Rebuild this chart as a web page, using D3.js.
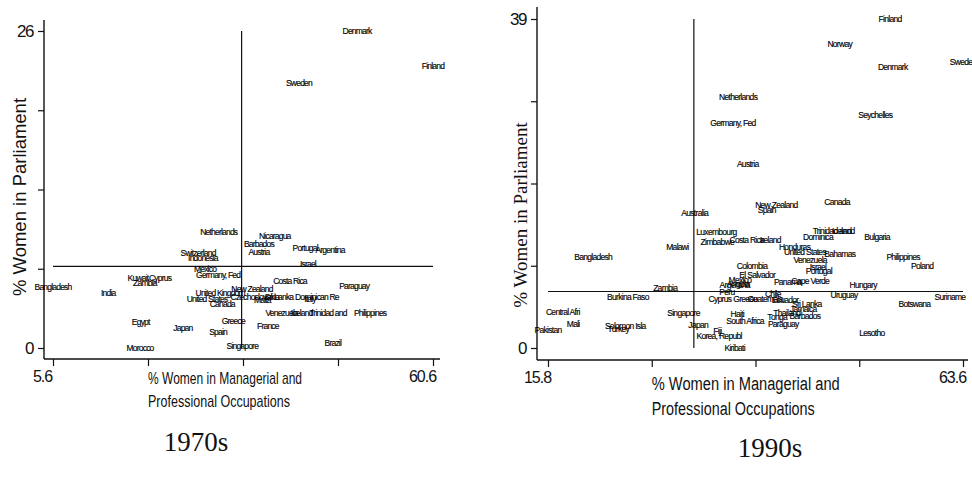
<!DOCTYPE html>
<html><head><meta charset="utf-8">
<script src="https://cdn.jsdelivr.net/npm/d3@7"></script>
<style>body{margin:0;background:#fff}svg{display:block}</style>
</head><body><svg id="c" width="972" height="478"></svg>
<script>
// ---------- 1970s ----------
const countries70 = ["Denmark","Finland","Sweden","Netherlands","Nicaragua","Barbados","Austria","Portugal","Argentina","Switzerland","Indonesia","Israel","Mexico","Germany, Fed","Costa Rica","Paraguay","New Zealand","United Kingdom","Czechoslovakia","Sri Lanka","Malta","United States","Canada","Dominican Re","Italy","Venezuela","Iceland","Trinidad and","Philippines","Greece","France","Japan","Spain","Singapore","Brazil","Bangladesh","India","Kuwait","Cyprus","Zambia","Egypt","Morocco"];
const mgmt70 = [49.6,60.6,41.2,29.6,37.7,35.4,35.4,42.1,45.7,26.6,27.3,42.5,27.6,29.5,39.9,49.2,34.4,29.8,34.8,38.3,35.9,27.9,30.1,43.8,42.8,38.7,41.6,45.4,51.5,31.7,36.7,24.4,29.5,33.0,46.1,5.6,13.6,17.9,21.1,18.9,18.3,18.2];
const parl70 = [26.0,23.1,21.7,9.5,9.2,8.5,7.9,8.2,8.0,7.8,7.4,6.9,6.5,6.0,5.5,5.1,4.8,4.5,4.2,4.2,3.9,4.0,3.6,4.2,4.0,2.9,2.9,2.9,2.9,2.2,1.8,1.6,1.3,0.2,0.4,5.0,4.5,5.7,5.7,5.3,2.1,0.0];
const xTicks70 = [5.6, 19.35, 33.1, 46.85, 60.6];
const yTicks70 = [0, 6.5, 13, 19.5, 26];
const meanMgmt70 = 32.9, meanParl70 = 6.7;

// ---------- 1990s ----------
const countries90 = ["Finland","Norway","Denmark","Sweden","Netherlands","Seychelles","Germany, Fed","Austria","Canada","New Zealand","Spain","Australia","Luxembourg","Trinidad and","Iceland","Dominica","Bulgaria","Malawi","Zimbabwe","Costa Rica","Ireland","Honduras","United States","Bahamas","Philippines","Poland","Venezuela","Israel","Portugal","Colombia","El Salvador","Panama","Cape Verde","Hungary","Mexico","Argentina","Angola","Peru","Zambia","Burkina Faso","Uruguay","Suriname","Botswana","Chile","Cyprus","Greece","Guatemala","Ecuador","Sri Lanka","Jamaica","Singapore","Haiti","South Africa","Tonga","Thailand","Barbados","Paraguay","Japan","Fiji","Korea, Republ","Kiribati","Lesotho","Bangladesh","Central Afri","Mali","Pakistan","Solomon Isla","Turkey"];
const mgmt90 = [55.2,49.4,55.5,63.6,37.7,53.5,37.1,38.8,49.1,42.1,41.0,32.7,35.2,48.5,49.8,46.9,53.7,30.7,35.3,38.7,41.4,44.2,45.4,49.4,56.7,58.9,46.0,46.9,47.0,39.3,39.9,43.4,46.0,52.1,37.9,37.3,37.7,36.4,29.3,25.0,49.9,62.1,58.0,41.7,35.6,38.5,40.8,43.1,45.6,45.2,31.4,37.6,38.5,42.2,43.3,45.4,42.9,33.1,35.3,35.5,37.3,53.1,21.0,17.5,18.7,15.8,24.7,23.9];
const parl90 = [39.0,36.0,33.3,33.9,29.8,27.6,26.7,21.8,17.3,17.0,16.4,16.0,13.8,13.9,13.9,13.2,13.2,12.0,12.6,12.8,12.8,12.0,11.4,11.1,10.8,9.7,10.4,9.6,9.1,9.7,8.7,7.8,7.9,7.5,8.1,7.5,7.6,6.6,7.1,6.0,6.3,6.0,5.2,6.4,5.8,5.8,5.8,5.7,5.2,4.6,4.1,4.0,3.2,3.7,4.1,3.8,2.8,2.7,2.0,1.4,0.0,1.8,10.8,4.3,2.8,2.1,2.6,2.3];
const xTicks90 = [15.8, 27.75, 39.7, 51.65, 63.6];
const yTicks90 = [0, 9.75, 19.5, 29.25, 39];
const meanMgmt90 = 32.6, meanParl90 = 6.7;

// ---------- text ----------
const xTitle = ["% Women in Managerial and", "Professional Occupations"];
const yTitle = "% Women in Parliament";
const panelTitles = ["1970s", "1990s"];

const svg = d3.select("#c");
const SANS = "'Liberation Sans', Arial, Helvetica, sans-serif";
const SERIF = "'Liberation Serif', 'Times New Roman', serif";

function panel(o) {
  const x = d3.scaleLinear().domain([o.xTicks[0], o.xTicks[o.xTicks.length-1]]).range(o.xRange);
  const y = d3.scaleLinear().domain([o.yTicks[0], o.yTicks[o.yTicks.length-1]]).range(o.yRange);
  const g = svg.append("g");
  const first = v => v === o.xTicks[0] || v === o.xTicks[o.xTicks.length-1];
  const firstY = v => v === o.yTicks[0] || v === o.yTicks[o.yTicks.length-1];

  g.append("line").attr("x1", o.axisX).attr("x2", o.axisX).attr("y1", o.yTop).attr("y2", o.axisY)
    .attr("stroke", "#111").attr("stroke-width", 1.4);
  g.append("line").attr("x1", o.axisX).attr("x2", o.xRight).attr("y1", o.axisY).attr("y2", o.axisY)
    .attr("stroke", "#111").attr("stroke-width", 1.4);

  const ya = d3.axisLeft(y).tickValues(o.yTicks).tickSize(6).tickPadding(5).tickSizeOuter(0)
    .tickFormat(v => firstY(v) ? d3.format("")(v) : "");
  const yg = g.append("g").attr("transform", `translate(${o.axisX},0)`).call(ya);
  yg.select(".domain").remove();
  yg.selectAll("line").attr("stroke", "#111").attr("stroke-width", 1.2);
  yg.selectAll("text").attr("font-family", SANS).attr("font-size", 17).attr("letter-spacing", -1.5).attr("fill", "#111");

  const xa = d3.axisBottom(x).tickValues(o.xTicks).tickSize(7).tickPadding(5).tickSizeOuter(0)
    .tickFormat(v => first(v) ? String(v) : "");
  const xg = g.append("g").attr("transform", `translate(0,${o.axisY})`).call(xa);
  xg.select(".domain").remove();
  xg.selectAll("line").attr("stroke", "#111").attr("stroke-width", 1.2);
  xg.selectAll("text").attr("font-family", SANS).attr("font-size", 16).attr("letter-spacing", -1)
    .attr("dx", -11).attr("fill", "#111");

  g.append("line").attr("x1", x(o.xTicks[0])).attr("x2", x(o.xTicks[o.xTicks.length-1]))
    .attr("y1", y(o.meanY)).attr("y2", y(o.meanY)).attr("stroke", "#111").attr("stroke-width", 1.2);
  g.append("line").attr("x1", x(o.meanX)).attr("x2", x(o.meanX))
    .attr("y1", y(o.yTicks[o.yTicks.length-1])).attr("y2", y(o.yTicks[0])).attr("stroke", "#111").attr("stroke-width", 1.2);

  g.append("g").selectAll("text").data(o.names).join("text")
    .attr("x", (d, i) => x(o.mx[i])).attr("y", (d, i) => y(o.my[i]))
    .attr("dy", "0.35em").attr("text-anchor", "middle")
    .attr("font-family", SANS).attr("font-size", o.labelSize).attr("letter-spacing", o.labelSpacing)
    .attr("fill", "#000").attr("stroke", "#000").attr("stroke-width", 0.15).text(d => d);

  g.append("text").attr("transform", `translate(${o.yTitlePos[0]},${o.yTitlePos[1]}) rotate(-90)`)
    .attr("text-anchor", "middle").attr("dy", "0.35em")
    .attr("font-family", o.yTitleFont).attr("font-size", o.yTitleSize).attr("fill", "#111").text(yTitle);

  xTitle.forEach((t, i) => {
    g.append("text").attr("x", x(o.xTicks[1])).attr("y", o.xTitleY[i])
      .attr("font-family", SANS).attr("font-size", o.xTitleSize).attr("fill", "#111")
      .attr("textLength", o.xTitleLen[i]).attr("lengthAdjust", "spacingAndGlyphs").text(t);
  });

  svg.append("text").attr("x", o.captionPos[0]).attr("y", o.captionPos[1]).attr("text-anchor", "middle")
    .attr("font-family", SERIF).attr("font-size", 27).attr("fill", "#111").text(o.caption);
}

panel({
  names: countries70, mx: mgmt70, my: parl70, xTicks: xTicks70, yTicks: yTicks70,
  meanX: meanMgmt70, meanY: meanParl70,
  xRange: [53, 433], yRange: [348, 31], axisX: 44, yTop: 20, axisY: 359, xRight: 440,
  labelSize: 8.5, labelSpacing: -0.8,
  yTitlePos: [20, 197], yTitleFont: SANS, yTitleSize: 18.5,
  xTitleY: [384, 407], xTitleSize: 17, xTitleLen: [154, 142],
  caption: panelTitles[0], captionPos: [196, 451]
});
panel({
  names: countries90, mx: mgmt90, my: parl90, xTicks: xTicks90, yTicks: yTicks90,
  meanX: meanMgmt90, meanY: meanParl90,
  xRange: [548, 963], yRange: [348, 19], axisX: 537, yTop: 7, axisY: 360, xRight: 968,
  labelSize: 8.5, labelSpacing: -0.7,
  yTitlePos: [520, 215], yTitleFont: SERIF, yTitleSize: 19,
  xTitleY: [390, 415], xTitleSize: 18, xTitleLen: [188, 163],
  caption: panelTitles[1], captionPos: [770, 457]
});
</script></body></html>
